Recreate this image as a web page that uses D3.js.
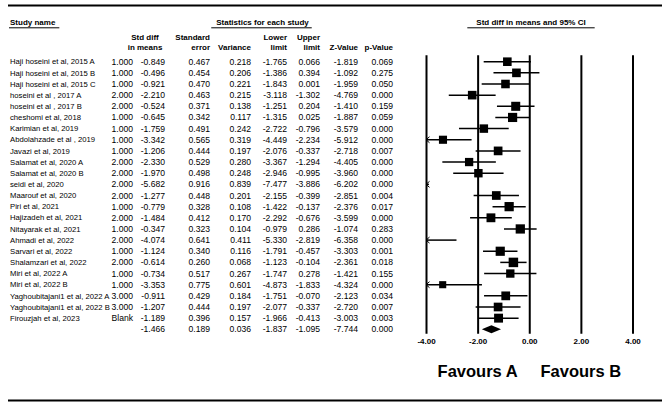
<!DOCTYPE html>
<html>
<head>
<meta charset="utf-8">
<script src="https://cdn.jsdelivr.net/npm/d3@7"></script>
<style>
  body { margin: 0; background: #fff; }
  svg text { font-family: Arial, "Liberation Sans", sans-serif; fill: #000; }
</style>
</head>
<body>
<svg id="chart" width="669" height="405"></svg>
<script>
// study rows, last row is the pooled summary
var studies = [
  "Haji hoseini et al, 2015 A", "Haji hoseini et al, 2015 B", "Haji hoseini et al, 2015 C",
  "hoseini et al , 2017 A", "hoseini et al , 2017 B", "cheshomi et al, 2018",
  "Karimian et al, 2019", "Abdolahzade et al , 2019", "Javazi et al, 2019",
  "Salamat et al, 2020 A", "Salamat et al, 2020 B", "seidi et al, 2020",
  "Maarouf et al, 2020", "Piri et al, 2021", "Hajizadeh et al, 2021",
  "Nitayarak et al, 2021", "Ahmadi et al, 2022", "Sarvari et al, 2022",
  "Shalamzari et al, 2022", "Miri et al, 2022 A", "Miri et al, 2022 B",
  "Yaghoubitajani1 et al, 2022 A", "Yaghoubitajani1 et al, 2022 B", "Firouzjah et al, 2023", ""
];
var groups = ["1.000","1.000","1.000","2.000","2.000","1.000","1.000","1.000","1.000","2.000","2.000","2.000",
  "2.000","1.000","2.000","1.000","2.000","1.000","2.000","1.000","1.000","3.000","3.000","Blank",""];
var stdDiff  = [-0.849,-0.496,-0.921,-2.210,-0.524,-0.645,-1.759,-3.342,-1.206,-2.330,-1.970,-5.682,
  -1.277,-0.779,-1.484,-0.347,-4.074,-1.124,-0.614,-0.734,-3.353,-0.911,-1.207,-1.189,-1.466];
var stdErr   = [0.467,0.454,0.470,0.463,0.371,0.342,0.491,0.565,0.444,0.529,0.498,0.916,
  0.448,0.328,0.412,0.323,0.641,0.340,0.260,0.517,0.775,0.429,0.444,0.396,0.189];
var variance = [0.218,0.206,0.221,0.215,0.138,0.117,0.242,0.319,0.197,0.280,0.248,0.839,
  0.201,0.108,0.170,0.104,0.411,0.116,0.068,0.267,0.601,0.184,0.197,0.157,0.036];
var lower    = [-1.765,-1.386,-1.843,-3.118,-1.251,-1.315,-2.722,-4.449,-2.076,-3.367,-2.946,-7.477,
  -2.155,-1.422,-2.292,-0.979,-5.330,-1.791,-1.123,-1.747,-4.873,-1.751,-2.077,-1.966,-1.837];
var upper    = [0.066,0.394,0.001,-1.302,0.204,0.025,-0.796,-2.234,-0.337,-1.294,-0.995,-3.886,
  -0.399,-0.137,-0.676,0.286,-2.819,-0.457,-0.104,0.278,-1.833,-0.070,-0.337,-0.413,-1.095];
var zValue   = [-1.819,-1.092,-1.959,-4.769,-1.410,-1.887,-3.579,-5.912,-2.718,-4.405,-3.960,-6.202,
  -2.851,-2.376,-3.599,-1.074,-6.358,-3.303,-2.361,-1.421,-4.324,-2.123,-2.720,-3.003,-7.744];
var pValue   = [0.069,0.275,0.050,0.000,0.159,0.059,0.000,0.000,0.007,0.000,0.000,0.000,
  0.004,0.017,0.000,0.283,0.000,0.001,0.018,0.155,0.000,0.034,0.007,0.003,0.000];
var axisTicks = [-4, -2, 0, 2, 4];

var svg = d3.select("#chart");
var n = studies.length;

var x = d3.scaleLinear().domain([-4, 4]).range([426, 632.5]);
var y = d3.scaleLinear().domain([0, n - 1]).range([61.7, 329.3]);

// rules top and bottom
svg.append("line").attr("x1", 8).attr("x2", 662).attr("y1", 5.5).attr("y2", 5.5)
  .attr("stroke", "#000").attr("stroke-width", 2.2);
svg.append("line").attr("x1", 8).attr("x2", 662).attr("y1", 400.5).attr("y2", 400.5)
  .attr("stroke", "#000").attr("stroke-width", 2.2);

// section titles with underline
function title(txt, cx, anchor, padL, padR) {
  var t = svg.append("text").attr("x", cx).attr("y", 21.7).attr("dy", "0.35em")
    .attr("text-anchor", anchor).attr("font-size", 8).attr("font-weight", "bold").text(txt);
  var w = t.node().getComputedTextLength();
  var x0 = anchor === "middle" ? cx - w / 2 : cx;
  svg.append("line").attr("x1", x0 - padL).attr("x2", x0 + w + padR)
    .attr("y1", 27.8).attr("y2", 27.8).attr("stroke", "#000").attr("stroke-width", 1);
}
title("Study name", 10, "start", 1, 4);
title("Statistics for each study", 262.5, "middle", 5, 3);
title("Std diff in means and 95% CI", 531, "middle", 9, 9);

// column headers
var cols = [
  {right: 133, vals: groups, h1: "", h2: ""},
  {right: 165, vals: stdDiff, h1: "Std diff", h2: "in means", center: 145},
  {right: 210, vals: stdErr, h1: "Standard", h2: "error"},
  {right: 251, vals: variance, h1: "", h2: "Variance"},
  {right: 287, vals: lower, h1: "Lower", h2: "limit"},
  {right: 320, vals: upper, h1: "Upper", h2: "limit"},
  {right: 358, vals: zValue, h1: "", h2: "Z-Value"},
  {right: 393, vals: pValue, h1: "", h2: "p-Value"}
];

cols.forEach(function(c) {
  var hx = c.center || c.right, anchor = c.center ? "middle" : "end";
  [[c.h1, 36.7], [c.h2, 47.5]].forEach(function(h) {
    if (!h[0]) return;
    svg.append("text").attr("x", hx).attr("y", h[1]).attr("dy", "0.35em")
      .attr("text-anchor", anchor).attr("font-size", 8).attr("font-weight", "bold").text(h[0]);
  });
  svg.append("g").selectAll("text").data(c.vals).join("text")
    .attr("x", c.right).attr("y", function(d, i) { return y(i); }).attr("dy", "0.35em")
    .attr("text-anchor", "end").attr("font-size", 8.6)
    .text(function(d) { return typeof d === "number" ? d.toFixed(3) : d; });
});

svg.append("g").selectAll("text").data(studies).join("text")
  .attr("x", 10).attr("y", function(d, i) { return y(i); }).attr("dy", "0.35em")
  .attr("font-size", 7.7).text(function(d) { return d; });

// axis with full-height reference lines
var axisY = y(n - 1) + 4.5;
var plotTop = y(0) - 6.5;
var axis = svg.append("g").attr("transform", "translate(0," + axisY + ")")
  .call(d3.axisBottom(x).tickValues(axisTicks).tickSize(-(axisY - plotTop)).tickPadding(5)
    .tickFormat(function(d) { return d.toFixed(2); }));
axis.select(".domain").remove();
axis.selectAll(".tick line").attr("stroke", "#000").attr("stroke-width", 2);
axis.selectAll(".tick text").attr("font-size", 8).attr("font-weight", "bold")
  .attr("font-family", "Arial, 'Liberation Sans', sans-serif").attr("fill", "#000");

// random-effects style box weights
var tau2 = 0.6;
var wts = variance.slice(0, n - 1).map(function(v) { return 1 / (v + tau2); });
var side = d3.scaleSqrt().domain([0, d3.max(wts)]).range([0, 9.5]);

var rows = d3.range(n - 1);
var g = svg.append("g");

// CI lines
g.selectAll("line.ci").data(rows.filter(function(i) { return upper[i] > -4; })).join("line")
  .attr("class", "ci")
  .attr("x1", function(i) { return x(Math.max(lower[i], -4)); })
  .attr("x2", function(i) { return x(Math.min(upper[i], 4)); })
  .attr("y1", function(i) { return y(i); }).attr("y2", function(i) { return y(i); })
  .attr("stroke", "#000").attr("stroke-width", 1.5);

// arrows where CI is cut off at the left
g.selectAll("path.arrow").data(rows.filter(function(i) { return lower[i] < -4; })).join("path")
  .attr("class", "arrow")
  .attr("d", function(i) {
    var x0 = x(-4), yy = y(i);
    return "M" + (x0 + 3.5) + "," + (yy - 3) + "L" + x0 + "," + yy + "L" + (x0 + 3.5) + "," + (yy + 3);
  })
  .attr("fill", "none").attr("stroke", "#000").attr("stroke-width", 1);

// boxes
g.selectAll("rect").data(rows.filter(function(i) { return stdDiff[i] >= -4 && stdDiff[i] <= 4; })).join("rect")
  .attr("x", function(i) { return x(stdDiff[i]) - side(wts[i]) / 2; })
  .attr("y", function(i) { return y(i) - side(wts[i]) / 2; })
  .attr("width", function(i) { return side(wts[i]); })
  .attr("height", function(i) { return side(wts[i]); })
  .attr("fill", "#000");

// summary diamond
var s = n - 1;
g.append("path")
  .attr("d", "M" + x(lower[s]) + "," + y(s) + "L" + x(stdDiff[s]) + "," + (y(s) - 4) +
    "L" + x(upper[s]) + "," + y(s) + "L" + x(stdDiff[s]) + "," + (y(s) + 4) + "Z")
  .attr("fill", "#000");

// favours labels
[["Favours A", -2], ["Favours B", 2]].forEach(function(f) {
  svg.append("text").attr("x", x(f[1])).attr("y", 371.7).attr("dy", "0.35em")
    .attr("text-anchor", "middle").attr("font-size", 16.5).attr("font-weight", "bold").text(f[0]);
});
</script>
</body>
</html>
